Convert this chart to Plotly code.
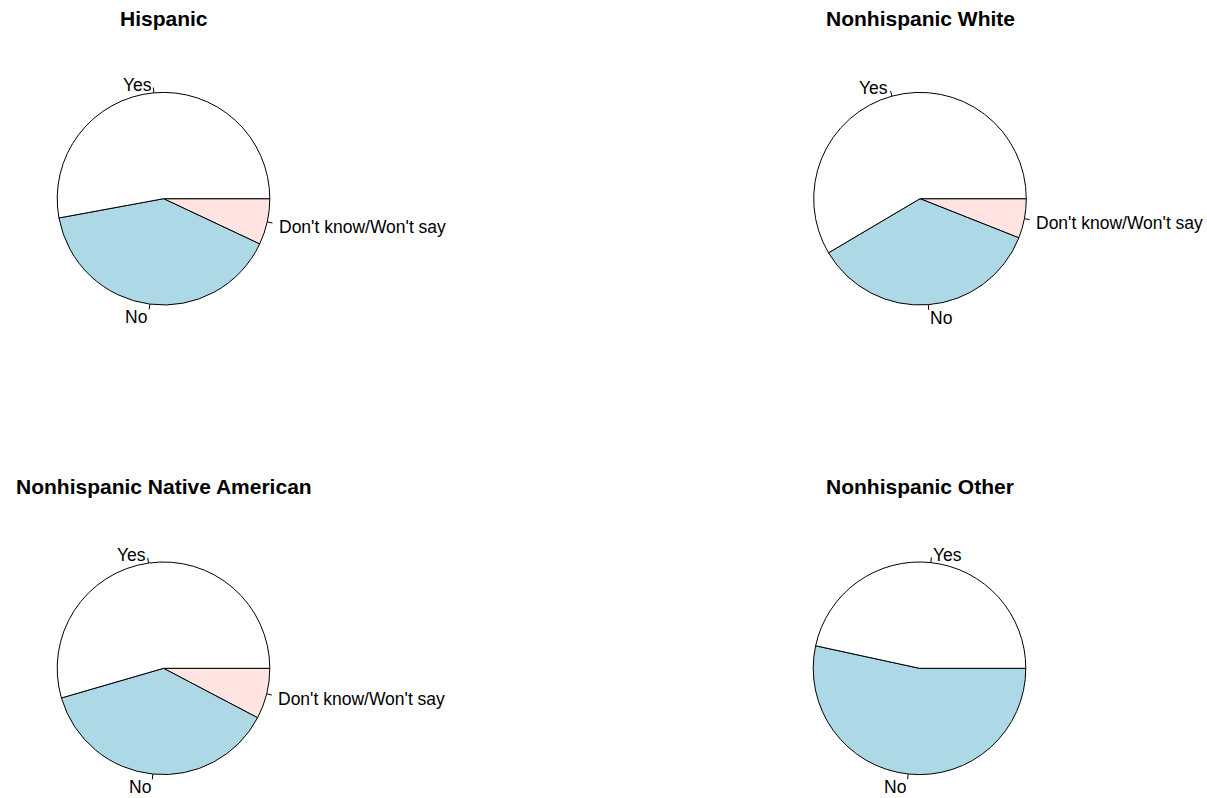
import math
import plotly.graph_objects as go

# ---- data (percent of respondents) ----
groups = ["Hispanic", "Nonhispanic White", "Nonhispanic Native American", "Nonhispanic Other"]
answers = ["Yes", "No", "Don't know/Won't say"]
yes_pct = [52.9, 58.5, 54.5, 46.6]
no_pct = [40.1, 35.5, 37.8, 53.4]
dk_pct = [7.0, 6.0, 7.7, 0.0]
slice_colors = ["white", "lightblue", "mistyrose"]

# ---- layout constants ----
W, H = 1207, 798
centers = [(163.5, 198.7), (920.0, 198.7), (163.5, 668.3), (919.5, 668.3)]
title_y = [18.3, 18.3, 486.7, 486.7]
R = 106.3
FONT = "Liberation Sans, Arial, Helvetica, sans-serif"

fig = go.Figure()
annotations = []
shapes = []

for i, g in enumerate(groups):
    cx, cy = centers[i]
    vals_all = [yes_pct[i], no_pct[i], dk_pct[i]]
    keep = [k for k, v in enumerate(vals_all) if v > 0]
    vals = [vals_all[k] for k in keep]
    labs = [answers[k] for k in keep]
    cols = [slice_colors[k] for k in keep]
    # R draws counter-clockwise from 3 o'clock; equivalently clockwise with reversed order
    fig.add_trace(go.Pie(
        values=vals[::-1], labels=labs[::-1], sort=False, direction="clockwise",
        rotation=90, textinfo="none", hoverinfo="label+value",
        marker=dict(colors=cols[::-1], line=dict(color="black", width=1)),
        domain=dict(x=[(cx - R) / W, (cx + R) / W], y=[1 - (cy + R) / H, 1 - (cy - R) / H]),
        showlegend=False,
    ))
    total = sum(vals)
    start = 0.0
    for v, lab in zip(vals, labs):
        frac = v / total
        mid = math.radians(start + frac * 180.0)
        start += frac * 360.0
        c, s = math.cos(mid), math.sin(mid)
        shapes.append(dict(type="line", xref="paper", yref="paper",
                           x0=(cx + R * c) / W, y0=1 - (cy - R * s) / H,
                           x1=(cx + 1.05 * R * c) / W, y1=1 - (cy - 1.05 * R * s) / H,
                           line=dict(color="black", width=1)))
        annotations.append(dict(
            text=lab, xref="paper", yref="paper", showarrow=False,
            x=(cx + 1.1 * R * c) / W, y=1 - (cy - 1.1 * R * s) / H,
            xanchor="right" if c < 0 else "left", yanchor="middle", yshift=-2.5,
            font=dict(family=FONT, size=17.5, color="black"), borderpad=0))
    annotations.append(dict(
        text="<b>%s</b>" % g, xref="paper", yref="paper", showarrow=False,
        x=cx / W, y=1 - title_y[i] / H, xanchor="center", yanchor="middle",
        font=dict(family=FONT, size=21, color="black")))

fig.update_layout(
    width=W, height=H, autosize=False,
    margin=dict(l=0, r=0, t=0, b=0),
    paper_bgcolor="white", plot_bgcolor="white",
    annotations=annotations, shapes=shapes,
)
fig.write_html("out.html", config={"displayModeBar": False},
               post_script="document.body.style.margin='0px';")
